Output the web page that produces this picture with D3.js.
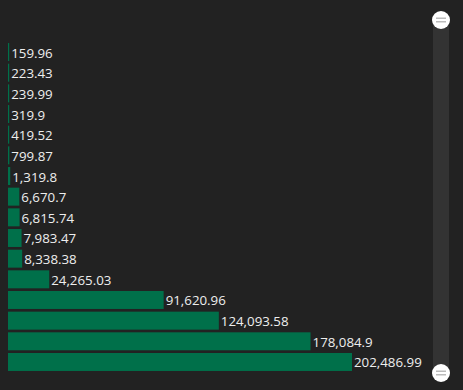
<!DOCTYPE html>
<html>
<head>
<meta charset="utf-8">
<script src="https://cdn.jsdelivr.net/npm/d3@7"></script>
<style>
  html, body { margin: 0; padding: 0; background: #222222; }
  svg { display: block; }
</style>
</head>
<body>
<div id="container"></div>
<script>
/* CONSTANTS AND GLOBALS */
const width = 463,
    height = 390,
    margin = { top: 42, bottom: 18, left: 8, right: 111 };

// DATA
const categories = ["a", "b", "c", "d", "e", "f", "g", "h", "i", "j", "k", "l", "m", "n", "o", "p"];
const values = [159.96, 223.43, 239.99, 319.9, 419.52, 799.87, 1319.8, 6670.7, 6815.74,
    7983.47, 8338.38, 24265.03, 91620.96, 124093.58, 178084.9, 202486.99];

// SVG
const svg = d3.select("#container")
    .append("svg")
    .attr("width", width)
    .attr("height", height);

svg.append("rect")
    .attr("width", width)
    .attr("height", height)
    .attr("fill", "#222222");

// SCALES
const xScale = d3.scaleLinear()
    .domain([0, d3.max(values)])
    .range([margin.left, width - margin.right]);

const yScale = d3.scaleBand()
    .domain(categories)
    .range([margin.top, height - margin.bottom])
    .paddingInner(0.13)
    .paddingOuter(0.05);

const fmt = d3.format(",");

// BARS
svg.selectAll("rect.bar")
    .data(values)
    .join("rect")
    .attr("class", "bar")
    .attr("x", xScale(0))
    .attr("y", (d, i) => yScale(categories[i]))
    .attr("width", d => Math.max(1.2, xScale(d) - xScale(0)))
    .attr("height", yScale.bandwidth())
    .attr("fill", "#00704a");

// LABELS
svg.selectAll("text.label")
    .data(values)
    .join("text")
    .attr("class", "label")
    .attr("x", d => Math.max(xScale(0) + 1.2, xScale(d)) + 2)
    .attr("y", (d, i) => yScale(categories[i]) + yScale.bandwidth() / 2 + 5.5)
    .attr("fill", "#eeeeee")
    .attr("font-family", "'Open Sans', sans-serif")
    .attr("font-size", 13.3)
    .text(d => fmt(d));

// SLIDER
const sliderX = 441,
    sliderTop = 20,
    sliderBottom = 373;

svg.append("rect")
    .attr("x", sliderX - 8)
    .attr("y", sliderTop)
    .attr("width", 16)
    .attr("height", sliderBottom - sliderTop)
    .attr("fill", "#333333");

[sliderTop, sliderBottom].forEach(cy => {
    const g = svg.append("g").attr("transform", `translate(${sliderX}, ${cy})`);
    g.append("circle")
        .attr("r", 9)
        .attr("fill", "#ffffff");
    [-1.8, 1.8].forEach(dy => {
        g.append("line")
            .attr("x1", -5).attr("x2", 5)
            .attr("y1", dy).attr("y2", dy)
            .attr("stroke", "#aaaaaa")
            .attr("stroke-width", 1.2);
    });
});
</script>
</body>
</html>
